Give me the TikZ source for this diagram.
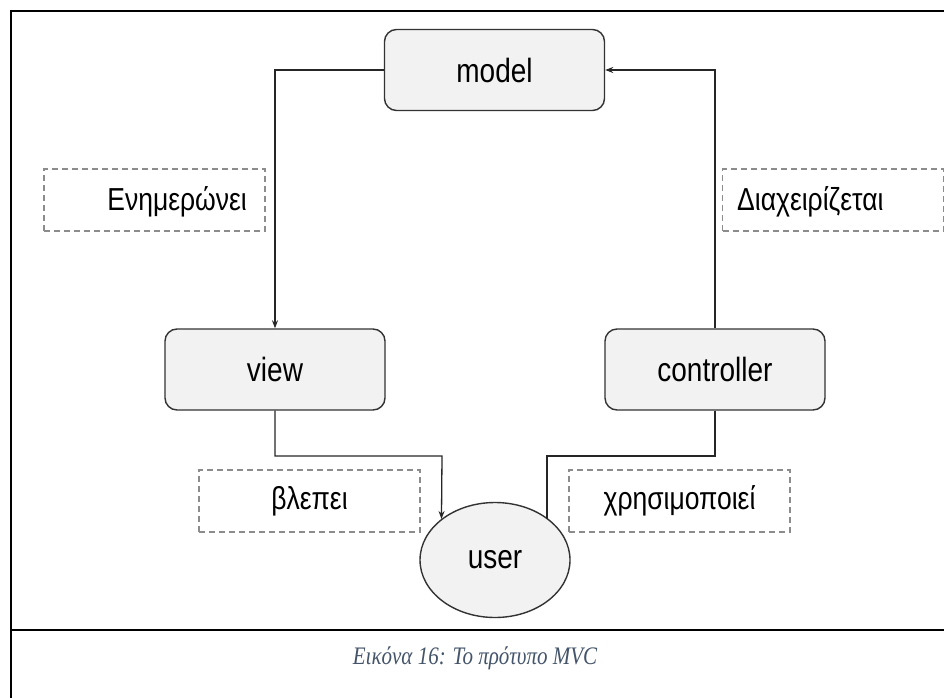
\documentclass[tikz,border=0pt]{standalone}
\usepackage{graphicx}
\usepackage{fontspec}
\setmainfont{Liberation Sans}
\newfontfamily\captionserif{Liberation Serif}
\usetikzlibrary{arrows.meta,shapes.geometric}
\definecolor{boxfill}{HTML}{F2F2F2}
\definecolor{boxline}{HTML}{333333}
\definecolor{dashline}{HTML}{8C8C8C}
\definecolor{captiontext}{HTML}{44546A}
% labels are set a little taller than the font's natural shape
\newcommand{\tallset}[1]{\scalebox{1}[1.2]{#1}}
\tikzset{
  compbox/.style={draw=boxline, fill=boxfill, line width=1.4pt, rounded corners=12pt,
    minimum width=220pt, minimum height=81pt, inner sep=0pt,
    font=\fontsize{28}{32}\selectfont},
  userell/.style={ellipse, draw=boxline, fill=boxfill, line width=1.4pt,
    minimum width=150pt, minimum height=115pt, inner sep=0pt,
    font=\fontsize{28}{32}\selectfont},
  tagbox/.style={draw=dashline, dash pattern=on 6pt off 4pt, line width=1.3pt,
    minimum width=221pt, minimum height=62pt, inner sep=0pt,
    font=\fontsize{26.5}{30}\selectfont},
  tagtext/.style={inner sep=0pt, font=\fontsize{26.5}{30}\selectfont},
  link/.style={draw=black!85, line width=1.3pt},
  tip/.style={-{Stealth[length=8pt,width=6pt]}},
  frameline/.style={line width=2.2pt, black}
}
\begin{document}
\begin{tikzpicture}[x=1pt, y=-1pt]
  \useasboundingbox (0,0) rectangle (944,698);

  % page frame around the figure and its caption cell
  \draw[frameline] (944,11) -- (11,11) -- (11,698);
  \draw[frameline] (11,630) -- (944,630);

  % the MVC parts
  \node[compbox] (model) at (494.5,70) {\tallset{model}};
  \node[compbox] (view) at (275,369.5) {\tallset{view}};
  \node[compbox] (controller) at (715,369.5) {\tallset{controller}};
  \node[userell] (user) at (495,560) {\tallset{user}};

  % dashed label boxes
  \node[tagbox] (updbox) at (154.5,200) {};
  \node[tagtext, anchor=east] (updtext) at (247,202) {\tallset{Ενημερώνει}};
  \node[tagbox] (mgrbox) at (833,200) {};
  \node[tagtext, anchor=west] (mgrtext) at (737,202) {\tallset{Διαχειρίζεται}};
  \node[tagbox] (seebox) at (309.5,501) {\tallset{βλεπει}};
  \node[tagbox] (usebox) at (679.5,501) {\tallset{χρησιμοποιεί}};

  % connectors
  \draw[link, tip] (model.west) -| (view.north);
  \draw[link, tip] (controller.north) |- (model.east);
  \coordinate (vbend) at (view.south |- 0,456);
  \coordinate (ubendL) at (442,456);
  \draw[link, tip] (view.south) -- (vbend) -- (ubendL) -- (user.north west |- 0,519);
  \coordinate (cbend) at (controller.south |- 0,456);
  \coordinate (ubendR) at (547,456);
  \draw[link] (controller.south) -- (cbend) -- (ubendR) -- (547,519);

  % caption
  \node[font={\captionserif\itshape\fontsize{21}{24}\selectfont}, text=captiontext] (caption)
    at (475,658) {\tallset{Εικόνα 16: Το πρότυπο MVC}};
\end{tikzpicture}
\end{document}
